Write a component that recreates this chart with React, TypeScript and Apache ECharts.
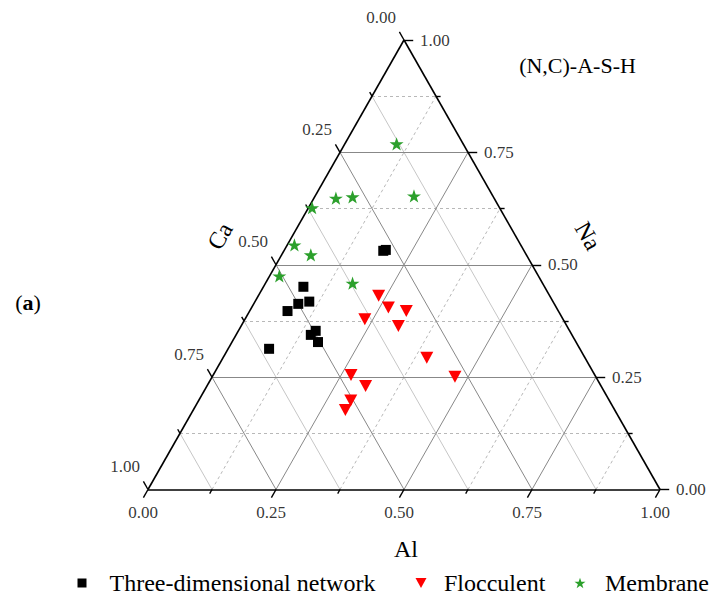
import React, { useEffect, useRef } from 'react';
import * as echarts from 'echarts';

// Ternary composition (fractions); Ca = 1 - Al - Na
const networkAl = [0.194, 0.198, 0.078, 0.087, 0.106, 0.074, 0.151, 0.146, 0.168, 0.080];
const networkNa = [0.531, 0.533, 0.451, 0.413, 0.418, 0.397, 0.353, 0.344, 0.328, 0.313];
const flocculentAl = [0.235, 0.267, 0.306, 0.234, 0.307, 0.398, 0.474, 0.269, 0.310, 0.297, 0.297];
const flocculentNa = [0.431, 0.405, 0.397, 0.379, 0.364, 0.293, 0.251, 0.255, 0.230, 0.198, 0.177];
const membraneAl = [0.101, 0.043, 0.074, 0.193, 0.007, 0.014, 0.057, 0.019, 0.170];
const membraneNa = [0.769, 0.648, 0.651, 0.653, 0.627, 0.544, 0.522, 0.475, 0.459];

const majorTicks = [0, 0.25, 0.5, 0.75, 1];
const tickLabels = ['0.00', '0.25', '0.50', '0.75', '1.00'];
const innerMajor = [0.25, 0.5, 0.75];
const minorTicks = [0.125, 0.375, 0.625, 0.875];

const seriesNames = ['Three-dimensional network', 'Flocculent', 'Membrane'];

const FONT = '"Liberation Serif", "Times New Roman", serif';
const STAR = 'path://M50,0 L61.8,35.1 L98.1,35.1 L68.7,56.7 L79.4,91 L50,70 L20.6,91 L31.3,56.7 L1.9,35.1 L38.2,35.1 Z';
const DOWN_TRI = 'path://M0,0 L10,0 L5,9 Z';

// ternary (Al, Na) -> cartesian
const xy = (al: number, na: number) => [al + na / 2, na];
const seg = (a1: number, n1: number, a2: number, n2: number) => ({ coords: [xy(a1, n1), xy(a2, n2)] });
const naLine = (v: number) => seg(0, v, 1 - v, v);
const alLine = (v: number) => seg(v, 0, v, 1 - v);
const caLine = (v: number) => seg(0, 1 - v, 1 - v, 0);

const alTick = (t: number, d: number) => seg(t, 0, t, -d);
const naTick = (t: number, d: number) => seg(1 - t, t, 1 - t + d, t);
const caTick = (t: number, d: number) => seg(0, 1 - t, -d, 1 - t + d);

const pts = (al: number[], na: number[]) => al.map((a, i) => xy(a, na[i]));

export default function App() {
  const ref = useRef<HTMLDivElement>(null);
  useEffect(() => {
    if (!ref.current) return;
    const chart = echarts.init(ref.current, undefined, { renderer: 'svg' });
    const MAJ = 0.018;
    const MIN = 0.009;
    const labelSeries = (name: string, data: number[][], label: any) => ({
      type: 'scatter',
      name,
      silent: true,
      clip: false,
      symbolSize: 0,
      itemStyle: { color: 'transparent' },
      data: data.map((p, i) => ({ value: p, label: { formatter: tickLabels[i] } })),
      label: { show: true, color: '#000', fontFamily: FONT, fontSize: 17, ...label },
      z: 5,
    });
    const legendText = (pad: number) => ({ fontFamily: FONT, fontSize: 24, color: '#000', padding: [0, 0, 0, pad] });
    const option: any = {
      animation: false,
      grid: { left: 148, top: 40, width: 512, height: 449.5 },
      xAxis: { type: 'value', min: 0, max: 1, show: false },
      yAxis: { type: 'value', min: 0, max: 1, show: false },
      legend: [
        {
          data: [{ name: seriesNames[0] }], left: 77.5, top: 571, padding: 0, itemWidth: 9, itemHeight: 9,
          textStyle: legendText(18),
        },
        {
          data: [{ name: seriesNames[1], icon: DOWN_TRI }], left: 415.5, top: 571, padding: 0, itemWidth: 11, itemHeight: 11,
          textStyle: legendText(12.5),
        },
        {
          data: [{ name: seriesNames[2], icon: STAR }], left: 574.5, top: 571, padding: 0, itemWidth: 11, itemHeight: 11,
          textStyle: legendText(14.5),
        },
      ],
      graphic: [
        { type: 'text', x: 577.5, y: 65, style: { text: '(N,C)-A-S-H', fontFamily: FONT, fontSize: 22, fill: '#000', align: 'center', verticalAlign: 'middle', textAlign: 'center', textVerticalAlign: 'middle' } },
        { type: 'text', x: 406, y: 549, style: { text: 'Al', fontFamily: FONT, fontSize: 24, fill: '#000', align: 'center', verticalAlign: 'middle', textAlign: 'center', textVerticalAlign: 'middle' } },
        { type: 'text', x: 220, y: 236, rotation: 1.052, style: { text: 'Ca', fontFamily: FONT, fontSize: 24, fill: '#000', align: 'center', verticalAlign: 'middle', textAlign: 'center', textVerticalAlign: 'middle' } },
        { type: 'text', x: 588, y: 236, rotation: -1.052, style: { text: 'Na', fontFamily: FONT, fontSize: 24, fill: '#000', align: 'center', verticalAlign: 'middle', textAlign: 'center', textVerticalAlign: 'middle' } },
        {
          type: 'text', x: 28, y: 302,
          style: {
            text: '{p|(}{b|a}{p|)}', align: 'center', verticalAlign: 'middle', textAlign: 'center', textVerticalAlign: 'middle',
            rich: {
              p: { fontFamily: FONT, fontSize: 22, fill: '#000', color: '#000' },
              b: { fontFamily: FONT, fontSize: 22, fontWeight: 'bold', fill: '#000', color: '#000' },
            },
          },
        },
      ],
      series: [
        {
          type: 'lines', coordinateSystem: 'cartesian2d', silent: true, clip: false, z: 1,
          lineStyle: { color: '#c6c6c6', width: 1, type: 'solid', opacity: 1 },
          data: minorTicks.map(caLine),
        },
        {
          type: 'lines', coordinateSystem: 'cartesian2d', silent: true, clip: false, z: 1,
          lineStyle: { color: '#b8b8b8', width: 1, type: [3, 3], opacity: 1 },
          data: [...minorTicks.map(naLine), ...minorTicks.map(alLine)],
        },
        {
          type: 'lines', coordinateSystem: 'cartesian2d', silent: true, clip: false, z: 2,
          lineStyle: { color: '#888888', width: 1, type: 'solid', opacity: 1 },
          data: [...innerMajor.map(naLine), ...innerMajor.map(alLine), ...innerMajor.map(caLine)],
        },
        {
          type: 'lines', coordinateSystem: 'cartesian2d', silent: true, clip: false, z: 3,
          lineStyle: { color: '#000', width: 1.6, type: 'solid', opacity: 1 },
          data: [naLine(0), alLine(0), caLine(0)],
        },
        {
          type: 'lines', coordinateSystem: 'cartesian2d', silent: true, clip: false, z: 3,
          lineStyle: { color: '#000', width: 1.4, type: 'solid', opacity: 1 },
          data: [
            ...majorTicks.map((t) => alTick(t, MAJ)),
            ...majorTicks.map((t) => naTick(t, MAJ)),
            ...majorTicks.map((t) => caTick(t, MAJ)),
            ...minorTicks.map((t) => alTick(t, MIN)),
            ...minorTicks.map((t) => naTick(t, MIN)),
            ...minorTicks.map((t) => caTick(t, MIN)),
          ],
        },
        labelSeries('alLabels', majorTicks.map((t) => xy(t, 0)), { position: 'inside', offset: [-5, 22.5], align: 'center', verticalAlign: 'middle' }),
        labelSeries('naLabels', majorTicks.map((t) => xy(1 - t, t)), { position: 'right', distance: 16, align: 'left', verticalAlign: 'middle' }),
        labelSeries('caLabels', majorTicks.map((t) => xy(0, 1 - t)), { position: 'inside', offset: [-23, -23], align: 'center', verticalAlign: 'middle' }),
        {
          type: 'scatter', name: seriesNames[0], symbol: 'rect', symbolSize: 10, z: 10,
          itemStyle: { color: '#000', opacity: 1 }, data: pts(networkAl, networkNa),
        },
        {
          type: 'scatter', name: seriesNames[1], symbol: 'triangle', symbolRotate: 180, symbolSize: [13, 12], z: 10,
          itemStyle: { color: '#ff0000', opacity: 1 }, data: pts(flocculentAl, flocculentNa),
        },
        {
          type: 'scatter', name: seriesNames[2], symbol: STAR, symbolKeepAspect: true, symbolSize: 14, z: 10,
          itemStyle: { color: '#2ca02c', opacity: 1 }, data: pts(membraneAl, membraneNa),
        },
      ],
    };
    chart.setOption(option);
    return () => chart.dispose();
  }, []);
  return <div ref={ref} style={{ position: 'absolute', left: 0, top: 0, width: 712, height: 600 }} />;
}
